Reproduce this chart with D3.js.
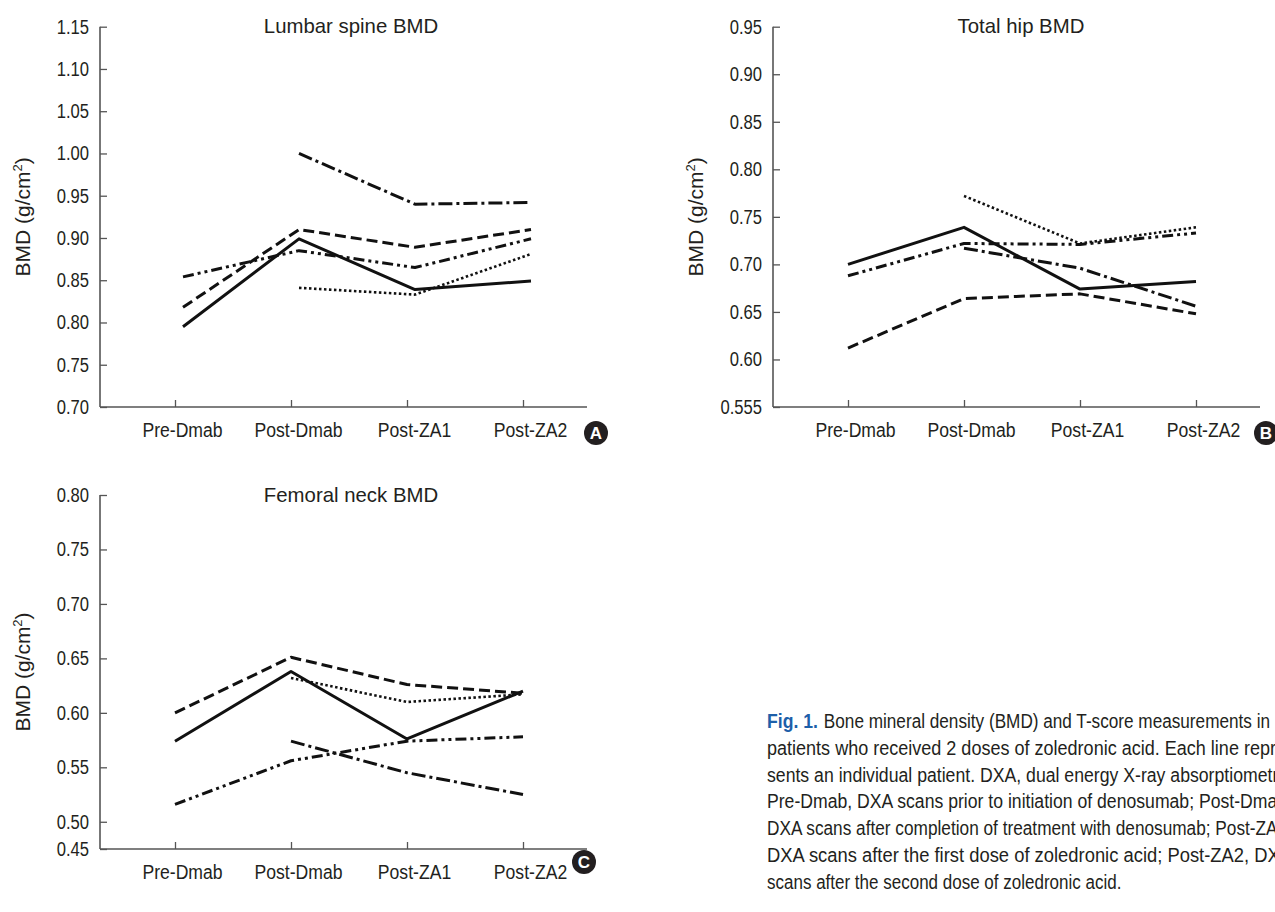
<!DOCTYPE html>
<html>
<head>
<meta charset="utf-8">
<script src="https://cdn.jsdelivr.net/npm/d3@7"></script>
<style>
  html, body { margin: 0; padding: 0; background: #fff; overflow: hidden; }
</style>
</head>
<body>
<svg id="chart" width="1275" height="912"></svg>
<script>
const categories = ["Pre-Dmab", "Post-Dmab", "Post-ZA1", "Post-ZA2"];
const patientStyles = ["solid", "dash", "dashDotDot", "dashDot", "dot"];

// one row per patient, null = no scan
const lumbarSpine = [
  [0.795, 0.899, 0.839, 0.849],
  [0.818, 0.910, 0.889, 0.910],
  [0.854, 0.885, 0.865, 0.899],
  [null, 1.000, 0.940, 0.942],
  [null, 0.841, 0.833, 0.881]
];
const totalHip = [
  [0.700, 0.739, 0.674, 0.682],
  [0.612, 0.664, 0.669, 0.648],
  [0.688, 0.722, 0.721, 0.733],
  [null, 0.717, 0.696, 0.656],
  [null, 0.772, 0.722, 0.739]
];
const femoralNeck = [
  [0.574, 0.638, 0.576, 0.620],
  [0.600, 0.651, 0.626, 0.618],
  [0.516, 0.556, 0.574, 0.578],
  [null, 0.574, 0.545, 0.525],
  [null, 0.632, 0.610, 0.617]
];

const lumbarTicks = [0.70, 0.75, 0.80, 0.85, 0.90, 0.95, 1.00, 1.05, 1.10, 1.15];
const lumbarTickLabels = ["0.70", "0.75", "0.80", "0.85", "0.90", "0.95", "1.00", "1.05", "1.10", "1.15"];
const hipTicks = [0.55, 0.60, 0.65, 0.70, 0.75, 0.80, 0.85, 0.90, 0.95];
const hipTickLabels = ["0.555", "0.60", "0.65", "0.70", "0.75", "0.80", "0.85", "0.90", "0.95"];
// broken axis: bottom tick is labelled 0.45
const neckTicks = [0.475, 0.50, 0.55, 0.60, 0.65, 0.70, 0.75, 0.80];
const neckTickLabels = ["0.45", "0.50", "0.55", "0.60", "0.65", "0.70", "0.75", "0.80"];

const captionLines = [
  "Bone mineral density (BMD) and T-score measurements in",
  "patients who received 2 doses of zoledronic acid. Each line repre-",
  "sents an individual patient. DXA, dual energy X-ray absorptiometry;",
  "Pre-Dmab, DXA scans prior to initiation of denosumab; Post-Dmab,",
  "DXA scans after completion of treatment with denosumab; Post-ZA1,",
  "DXA scans after the first dose of zoledronic acid; Post-ZA2, DXA",
  "scans after the second dose of zoledronic acid."
];

const FONT = '"Liberation Sans", Arial, sans-serif';
const INK = "#231f20";
const dashes = {
  solid: null,
  dash: "11,5",
  dashDotDot: "11,4,3,4,3,4",
  dashDot: "14,4,3,4",
  dot: "2.5,2.5"
};

const svg = d3.select("#chart");

// squeeze text horizontally to mimic the condensed face of the figure
function condense(sel, k) {
  sel.each(function () {
    const w = this.getComputedTextLength();
    d3.select(this).attr("textLength", w * k).attr("lengthAdjust", "spacingAndGlyphs");
  });
}

function drawPanel(p) {
  const g = svg.append("g");
  const y = d3.scaleLinear().domain(p.yDomain).range([p.yBottom, p.yTop]);
  const x = d3.scalePoint().domain(categories).range(p.xRange);

  const line = d3.line()
    .defined(d => d != null)
    .x((d, i) => x(categories[i]) + p.shift)
    .y(d => y(d));

  g.selectAll("path.patient")
    .data(p.data)
    .join("path")
    .attr("class", "patient")
    .attr("fill", "none")
    .attr("stroke", "#111")
    .attr("stroke-width", (d, i) => patientStyles[i] == "dot" ? 2.6 : 3)
    .attr("stroke-dasharray", (d, i) => dashes[patientStyles[i]])
    .attr("stroke-linejoin", "round")
    .attr("d", line);

  // y axis, ticks pointing inward
  const yAxis = g.append("g")
    .attr("transform", `translate(${p.axisX},0)`)
    .call(d3.axisLeft(y)
      .tickValues(p.ticks)
      .tickFormat((d, i) => p.tickLabels[i])
      .tickSizeInner(-7)
      .tickSizeOuter(0)
      .tickPadding(11));
  yAxis.select(".domain").remove();
  yAxis.selectAll("line").attr("stroke", "#555").attr("stroke-width", 1.3);
  yAxis.selectAll("text").attr("font-family", FONT).attr("font-size", 20)
    .attr("fill", INK).call(condense, 0.83);
  g.append("line")
    .attr("x1", p.axisX).attr("x2", p.axisX)
    .attr("y1", p.yTop).attr("y2", p.yBottom)
    .attr("stroke", "#555").attr("stroke-width", 1.6);

  // x axis
  const xAxis = g.append("g")
    .attr("transform", `translate(0,${p.yBottom})`)
    .call(d3.axisBottom(x).tickSizeInner(-7).tickSizeOuter(0).tickPadding(13));
  xAxis.select(".domain").remove();
  xAxis.selectAll("line").attr("stroke", "#555").attr("stroke-width", 1.3);
  xAxis.selectAll("text").attr("font-family", FONT).attr("font-size", 20)
    .attr("fill", INK).attr("dx", p.labelShift).attr("dy", "0.85em")
    .call(condense, 0.88);
  g.append("line")
    .attr("x1", p.axisX).attr("x2", p.xEnd)
    .attr("y1", p.yBottom).attr("y2", p.yBottom)
    .attr("stroke", "#555").attr("stroke-width", 1.6);

  g.append("text")
    .attr("x", p.titleX).attr("y", p.titleY)
    .attr("text-anchor", "middle")
    .attr("font-family", FONT).attr("font-size", 21)
    .attr("fill", INK)
    .text(p.title)
    .call(condense, 0.97);

  const yl = g.append("text")
    .attr("transform", `translate(${p.axisX - 70},${(p.yTop + p.yBottom) / 2}) rotate(-90)`)
    .attr("text-anchor", "middle")
    .attr("font-family", FONT).attr("font-size", 21)
    .attr("fill", INK);
  yl.append("tspan").text("BMD (g/cm");
  yl.append("tspan").attr("dy", -8).attr("font-size", 13).text("2");
  yl.append("tspan").attr("dy", 8).text(")");

  g.append("circle")
    .attr("cx", p.badgeX).attr("cy", p.badgeY).attr("r", 12)
    .attr("fill", INK);
  g.append("text")
    .attr("x", p.badgeX).attr("y", p.badgeY + 6)
    .attr("text-anchor", "middle")
    .attr("font-family", FONT)
    .attr("font-weight", "bold").attr("font-size", 17)
    .attr("fill", "#fff")
    .text(p.badge);
}

drawPanel({
  data: lumbarSpine, title: "Lumbar spine BMD", badge: "A",
  yDomain: [0.70, 1.15], ticks: lumbarTicks, tickLabels: lumbarTickLabels,
  axisX: 100, xEnd: 587, yTop: 26.7, yBottom: 407,
  xRange: [175, 523], shift: 8, labelShift: 7,
  titleX: 351, titleY: 33, badgeX: 596, badgeY: 433
});

drawPanel({
  data: totalHip, title: "Total hip BMD", badge: "B",
  yDomain: [0.55, 0.95], ticks: hipTicks, tickLabels: hipTickLabels,
  axisX: 773, xEnd: 1260, yTop: 26.7, yBottom: 407,
  xRange: [848, 1196], shift: 0, labelShift: 7,
  titleX: 1021, titleY: 33, badgeX: 1266, badgeY: 433
});

drawPanel({
  data: femoralNeck, title: "Femoral neck BMD", badge: "C",
  yDomain: [0.475, 0.80], ticks: neckTicks, tickLabels: neckTickLabels,
  axisX: 100, xEnd: 587, yTop: 495, yBottom: 849,
  xRange: [175, 523], shift: 0, labelShift: 7,
  titleX: 351, titleY: 502, badgeX: 584, badgeY: 862
});

// caption: justified lines, running past the right edge like the reference
const capLeft = 767;
const capEnds = [1270, 1292, 1292, 1292, 1292, 1292, null];
const cap = svg.append("g")
  .attr("font-family", FONT).attr("font-size", 20).attr("fill", INK);

const figLabel = cap.append("text")
  .attr("x", capLeft).attr("y", 728)
  .attr("font-weight", "bold").attr("fill", "#1d5fa9")
  .text("Fig. 1.");
const figW = figLabel.node().getComputedTextLength() * 0.88;
figLabel.attr("textLength", figW).attr("lengthAdjust", "spacingAndGlyphs");

captionLines.forEach((t, i) => {
  const x0 = i == 0 ? capLeft + figW + 6 : capLeft;
  const txt = cap.append("text")
    .attr("x", x0).attr("y", 728 + i * 26.75)
    .text(t);
  if (capEnds[i]) {
    txt.attr("textLength", capEnds[i] - x0).attr("lengthAdjust", "spacingAndGlyphs");
  } else {
    txt.call(condense, 0.85);
  }
});
</script>
</body>
</html>
